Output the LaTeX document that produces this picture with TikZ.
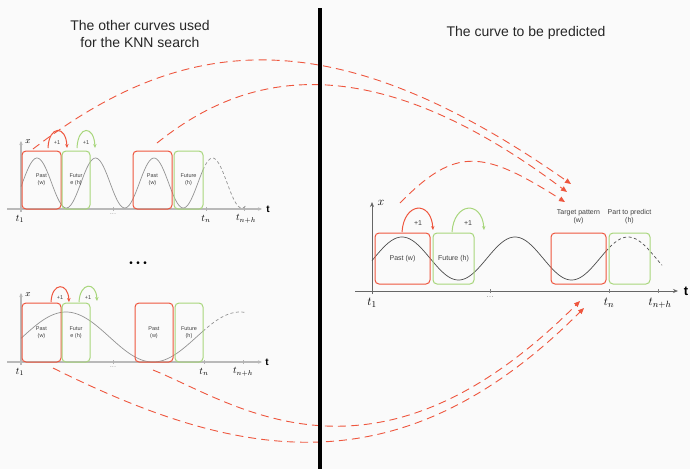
\documentclass[tikz,border=0pt]{standalone}
\usepackage{fontspec}
\setmainfont{Liberation Sans}
\usepackage{amsmath}
\usetikzlibrary{arrows.meta, positioning}
\definecolor{Rojo}{RGB}{238,86,62}
\definecolor{Verde}{RGB}{168,214,124}
\definecolor{Fondo}{RGB}{250,250,250}

\begin{document}
\begin{tikzpicture}[
  x=1pt, y=-1pt,
  ventana/.style={
    rectangle, rounded corners=4pt, inner sep=0pt,
    align=center, text=black!75
  },
  pasado/.style={ventana, draw=Rojo, line width=1pt},
  futuro/.style={ventana, draw=Verde, line width=1pt},
  mini/.style={font=\fontsize{5.5}{7}\selectfont},
  chico/.style={font=\fontsize{7}{8.5}\selectfont, text=black!75, align=center},
  tit/.style={font=\fontsize{14}{17.5}\selectfont, text=black!85, align=center},
  eje/.style={-{Stealth[length=4pt, width=3.5pt]}, gray!55, line width=1.1pt},
  ejeR/.style={-{Stealth[length=5pt, width=4pt]}, black!60, line width=0.7pt},
  marca/.style={gray!60, line width=0.7pt},
  curva/.style={gray!85, line width=0.7pt},
  curvaR/.style={black!70, line width=0.7pt},
  punteo/.style={dash pattern=on 3pt off 2.5pt},
  salto/.style={-{Stealth[length=4pt, width=3.5pt]}, line width=1pt},
  busca/.style={Rojo, line width=0.9pt, dash pattern=on 8pt off 5pt,
    -{Triangle[length=6pt, width=5pt]}},
  tlbl/.style={font=\fontsize{10}{12}\selectfont, inner sep=0pt},
  tlblR/.style={font=\fontsize{13}{15}\selectfont, inner sep=0pt},
  puntos/.style={font=\fontsize{7.5}{8}\selectfont, text=gray!70, inner sep=0pt}
]

%% ─────────────────────────────────────────────────────────
%% 1 px = 1 pt, y hacia abajo
%% ─────────────────────────────────────────────────────────
\fill[Fondo] (0,0) rectangle (690,469);
\useasboundingbox (0,0) rectangle (690,469);

%% TÍTULOS
\node[tit] (titIzq) at (140,34) {The other curves used\\for the KNN search};
\node[tit] (titDer) at (526,33) {The curve to be predicted};

%% PANEL 1 ─ arriba a la izquierda
\draw[eje] (7,209) -- (262,209);
\draw[eje] (21,212) -- (21,141);
\node[font=\fontsize{10}{12}\selectfont\bfseries] (tA) at (268,209) {t};
\node[font=\fontsize{9}{10}\selectfont] (xA) at (28,142) {$x$};
\foreach \p in {113,206,244} \draw[marca] (\p,207) -- (\p,211);

\draw[curva] plot[domain=21:203, samples=120, smooth]
  (\x, {183-25*cos((\x-37)/58.5*360)});
\draw[curva, punteo] plot[domain=203:246, samples=40, smooth]
  (\x, {183-25*cos((\x-37)/58.5*360)});

\node[pasado, minimum width=39pt, minimum height=58pt, mini] (pasA) at (41.5,180) {Past\\(w)};
\node[futuro, minimum width=28pt, minimum height=58pt, mini] (futA) at (76,180)   {Futur\\e (h)};
\node[pasado, minimum width=39pt, minimum height=58pt, mini] (pasB) at (152.5,180) {Past\\(w)};
\node[futuro, minimum width=29pt, minimum height=58pt, mini] (futB) at (188.5,180) {Future\\(h)};

\node[tlbl] (t1A) at (20,219) {$t_1$};
\node[puntos] (dotA) at (113,214) {...};
\node[tlbl] (tnA) at (206,219) {$t_n$};
\node[tlbl] (tnhA) at (246,219) {$t_{n+h}$};

% desplazamientos +1
\coordinate (sA0) at (48,148);  \coordinate (sA1) at (67,148);
\coordinate (sA2) at (77,148);  \coordinate (sA3) at (95,148);
\draw[salto, Rojo]  (sA0) .. controls +(1,-23) and +(-1,-23) .. (sA1);
\draw[salto, Verde] (sA2) .. controls +(1,-23) and +(-1,-23) .. (sA3);
\node[mini, text=black!75] (unoA) at (57,143) {+1};
\node[mini, text=black!75] (dosA) at (86,143) {+1};

%% puntos entre paneles
\node[font=\fontsize{10}{12}\selectfont] (sigue) at (138,264)
  {\textbullet\hspace{3.5pt}\textbullet\hspace{3.5pt}\textbullet};

%% PANEL 2 ─ abajo a la izquierda
\draw[eje] (7,362) -- (262,362);
\draw[eje] (21,365) -- (21,293);
\node[font=\fontsize{10}{12}\selectfont\bfseries] (tB) at (267,362) {t};
\node[font=\fontsize{9}{10}\selectfont] (xB) at (28,295) {$x$};
\foreach \p in {113,204,243} \draw[marca] (\p,360) -- (\p,364);

\draw[curva] plot[domain=21:203, samples=120, smooth]
  (\x, {337-25*cos((\x-66)/174*360)});
\draw[curva, punteo] plot[domain=203:245, samples=40, smooth]
  (\x, {337-25*cos((\x-66)/174*360)});

\node[pasado, minimum width=39pt, minimum height=59pt, mini] (pasC) at (41.5,332.5) {Past\\(w)};
\node[futuro, minimum width=28pt, minimum height=59pt, mini] (futC) at (76,332.5)   {Futur\\e (h)};
\node[pasado, minimum width=38pt, minimum height=59pt, mini] (pasD) at (154,332.5)  {Past\\(w)};
\node[futuro, minimum width=28pt, minimum height=59pt, mini] (futD) at (189,332.5)  {Future\\(h)};

\node[tlbl] (t1B) at (20,372) {$t_1$};
\node[puntos] (dotB) at (113,367) {...};
\node[tlbl] (tnB) at (204,372) {$t_n$};
\node[tlbl] (tnhB) at (243,372) {$t_{n+h}$};

\coordinate (sB0) at (51,302);  \coordinate (sB1) at (69,302);
\coordinate (sB2) at (79,302);  \coordinate (sB3) at (97,301);
\draw[salto, Rojo]  (sB0) .. controls +(1,-20) and +(-1,-20) .. (sB1);
\draw[salto, Verde] (sB2) .. controls +(1,-20) and +(-1,-20) .. (sB3);
\node[mini, text=black!75] (unoB) at (60,298) {+1};
\node[mini, text=black!75] (dosB) at (88,298) {+1};

%% PANEL 3 ─ curva a predecir
\draw[ejeR] (355,291) -- (678,291);
\draw[ejeR] (372,294) -- (372,202);
\node[font=\fontsize{13}{15}\selectfont\bfseries] (tR) at (686,291) {t};
\node[font=\fontsize{12}{14}\selectfont] (xR) at (381,203) {$x$};
\foreach \p in {490,609,658} \draw[marca, black!50] (\p,289) -- (\p,293);

\draw[curvaR] plot[domain=372:606, samples=160, smooth]
  (\x, {258.5-21.5*cos((\x-402)/113*360)});
\draw[curvaR, punteo] plot[domain=606:662, samples=40, smooth]
  (\x, {258.5-21.5*cos((\x-402)/113*360)});

\node[pasado, minimum width=55pt, minimum height=51pt, chico] (pasR) at (402.5,258.5) {Past (w)};
\node[futuro, minimum width=41pt, minimum height=51pt, chico] (futR) at (453.5,258.5) {Future (h)};
\node[pasado, minimum width=55pt, minimum height=51pt] (objR) at (578.5,258.5) {};
\node[futuro, minimum width=41pt, minimum height=51pt] (preR) at (629.5,258.5) {};
\node[chico, above=5pt of objR] (objLbl) {Target pattern\\(w)};
\node[chico, above=5pt of preR] (preLbl) {Part to predict\\(h)};

\node[tlblR] (t1R) at (372,303) {$t_1$};
\node[puntos, font=\fontsize{9}{10}\selectfont] (dotR) at (490,297) {...};
\node[tlblR] (tnR) at (609,303) {$t_n$};
\node[tlblR] (tnhR) at (660,303) {$t_{n+h}$};

\coordinate (sR0) at (402,232);  \coordinate (sR1) at (433,230);
\coordinate (sR2) at (452,232);  \coordinate (sR3) at (484,230);
\draw[salto, Rojo]  (sR0) .. controls +(2,-30) and +(-2,-30) .. (sR1);
\draw[salto, Verde] (sR2) .. controls +(2,-30) and +(-2,-30) .. (sR3);
\node[chico] (unoR) at (418,223) {+1};
\node[chico] (dosR) at (468,223) {+1};

%% BÚSQUEDA KNN ─ flechas rojas discontinuas
\coordinate (a1) at (33,149);   \coordinate (b1) at (571,184);
\coordinate (a2) at (157,143);  \coordinate (b2) at (567,192);
\coordinate (a3) at (400,203);  \coordinate (b3) at (565,202);
\coordinate (a4) at (53,368);   \coordinate (b4) at (584,308);
\coordinate (a5) at (153,370);  \coordinate (b5) at (580,301);

\draw[busca] (a1) .. controls (183,34) and (331,16) .. (b1);
\draw[busca] (a2) .. controls (237,79) and (359,36) .. (b2);
\draw[busca] (a3) .. controls (456,146) and (483,150) .. (b3);
\draw[busca] (a4) .. controls (240,461) and (401,491) .. (b4);
\draw[busca] (a5) .. controls (235,403) and (374,507) .. (b5);

%% línea divisoria
\draw[line width=4pt, black] (320,8) -- (320,469);

\end{tikzpicture}
\end{document}
